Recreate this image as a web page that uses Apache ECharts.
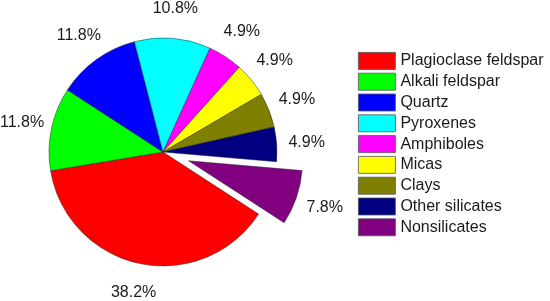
<!DOCTYPE html>
<html><head><meta charset="utf-8">
<script src="https://cdn.jsdelivr.net/npm/echarts@6/dist/echarts.min.js"></script>
<style>html,body{margin:0;padding:0;background:#fff}#c{width:550px;height:301px}</style>
</head><body><div id="c"></div>
<script>
var categories = ['Plagioclase feldspar','Alkali feldspar','Quartz','Pyroxenes','Amphiboles','Micas','Clays','Other silicates','Nonsilicates'];
var values = [38.2, 11.8, 11.8, 10.8, 4.9, 4.9, 4.9, 4.9, 7.8];
var colors = ['#ff0000','#00ff00','#0000ff','#00ffff','#ff00ff','#ffff00','#808000','#000080','#800080'];
var explodedName = 'Nonsilicates';

var chart = echarts.init(document.getElementById('c'), null, {renderer:'canvas'});
var font = '"Liberation Sans", Arial, sans-serif';
var mainData = categories.map(function(n,i){
  return {name:n, value:values[i], selected: n===explodedName, itemStyle:{color:colors[i]}};
});
var labelData = categories.map(function(n,i){
  return {name:n, value:values[i], selected: n===explodedName};
});
chart.setOption({
  animation:false,
  legend:{
    orient:'vertical', left:358, top:52, padding:0,
    itemWidth:37, itemHeight:17, itemGap:3,
    icon:'rect',
    data:categories,
    itemStyle:{borderColor:'#555', borderWidth:0.8},
    textStyle:{fontFamily:font, fontSize:16, color:'#1a1a1a'},
    selectedMode:false
  },
  series:[{
    type:'pie', center:[163,152], radius:114, startAngle:-33, clockwise:true,
    selectedMode:'single', selectedOffset:27,
    label:{show:false}, labelLine:{show:false},
    itemStyle:{borderColor:'rgba(40,40,40,0.8)', borderWidth:0.6},
    emphasis:{disabled:true},
    data:mainData
  },{
    type:'pie', center:[163,152], radius:[130,152], startAngle:-33, clockwise:true,
    selectedMode:'single', selectedOffset:27, silent:true,
    itemStyle:{color:'rgba(0,0,0,0)', borderWidth:0},
    label:{show:true, position:'inside', fontFamily:font, fontSize:16, color:'#1a1a1a',
      formatter:function(p){return p.value.toFixed(1)+'%';}},
    labelLine:{show:false},
    emphasis:{disabled:true},
    data:labelData
  }]
});
</script></body></html>
